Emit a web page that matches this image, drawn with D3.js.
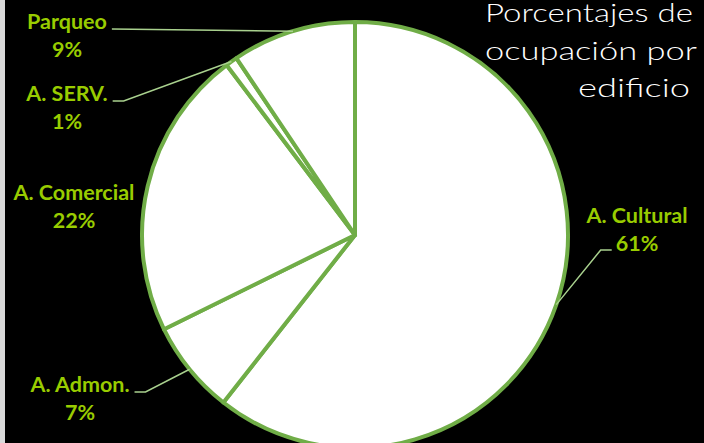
<!DOCTYPE html>
<html lang="es">
<head>
    <meta charset="UTF-8">
    <title>Porcentajes de ocupación por edificio</title>
    <script src="https://d3js.org/d3.v7.min.js"></script>
    <style>
        body { margin: 0; background: #000; }
        .etiqueta {
            font-family: "Lato", "Open Sans", sans-serif;
            font-size: 21.5px;
            font-weight: 700;
            fill: #99cc00;
        }
        .titulo {
            font-family: "Lato", "DejaVu Sans", sans-serif;
            font-size: 25.5px;
            font-weight: 300;
            fill: #ffffff;
        }
    </style>
</head>
<body>
<svg width="704" height="443"></svg>

<script type="application/javascript">

    // datos
    const categorias = ["A. Cultural", "A. Admon.", "A. Comercial", "A. SERV.", "Parqueo"]
    const valores = [60.6, 7.1, 22.0, 0.9, 9.4]
    const tituloLineas = ["Porcentajes de", "ocupación por", "edificio"]

    // posición de cada etiqueta (centro, línea base del nombre)
    const posEtiquetas = [[637, 223], [80, 392], [74, 200], [67, 101], [67, 29]]
    // tipo de linea guia: 0 ninguna, 1 recta, 2 con codo a la derecha, 3 con codo a la izq
    const guias = [3, 2, 0, 2, 1]
    // ancho y borde derecho de cada linea del titulo
    const tituloAnchos = [208, 212, 112]
    const tituloDer = [693, 697, 690]

    const svg = d3.select("svg")
    const cx = 355, cy = 235, radio = 213

    // fondo negro y franja gris de la izq
    svg.append("rect").attr("width", 704).attr("height", 443).attr("fill", "#000")
    svg.append("rect").attr("width", 5).attr("height", 443).attr("fill", "#d9d9d9")

    const total = d3.sum(valores)
    const pie = d3.pie().sort(null).value(function (d) { return d })
    const arcos = pie(valores)
    const arco = d3.arc().innerRadius(0).outerRadius(radio)

    const g = svg.append("g").attr("transform", "translate(" + cx + "," + cy + ")")

    g.selectAll("path")
        .data(arcos)
        .enter()
        .append("path")
        .attr("d", arco)
        .attr("fill", "#ffffff")
        .attr("stroke", "#70ad47")
        .attr("stroke-width", 4)
        .attr("stroke-linejoin", "round")

    // etiquetas
    const etiquetas = svg.selectAll("text.etiqueta")
        .data(arcos)
        .enter()
        .append("text")
        .attr("class", "etiqueta")
        .attr("text-anchor", "middle")

    const nombres = etiquetas.append("tspan")
        .attr("x", function (d, i) { return posEtiquetas[i][0] })
        .attr("y", function (d, i) { return posEtiquetas[i][1] })
        .text(function (d, i) { return categorias[i] })

    const porcentajes = etiquetas.append("tspan")
        .attr("x", function (d, i) { return posEtiquetas[i][0] })
        .attr("y", function (d, i) { return posEtiquetas[i][1] + 28 })
        .text(function (d) { return Math.round(d.data / total * 100) + "%" })

    const anchoNombre = nombres.nodes().map(function (n) { return n.getComputedTextLength() })
    const anchoPct = porcentajes.nodes().map(function (n) { return n.getComputedTextLength() })

    // lineas guia
    svg.selectAll("polyline")
        .data(arcos.filter(function (d, i) { return guias[i] > 0 }))
        .enter()
        .append("polyline")
        .attr("fill", "none")
        .attr("stroke", "#a9d18e")
        .attr("stroke-width", 1.5)
        .attr("points", function (d) {
            const i = d.index
            const a = (d.startAngle + d.endAngle) / 2
            const px = cx + radio * Math.sin(a)
            const py = cy - radio * Math.cos(a)
            const p = posEtiquetas[i]
            let pts
            if (guias[i] === 3) {
                const hx = p[0] - anchoPct[i] / 2 - 4, hy = p[1] + 27
                pts = [[hx, hy], [hx - 11, hy], [px, py]]
            } else if (guias[i] === 1) {
                const hx = p[0] + anchoNombre[i] / 2 + 5
                pts = [[hx, p[1]], [px, py]]
            } else {
                const hx = p[0] + anchoNombre[i] / 2 + 5
                pts = [[hx, p[1]], [hx + 11, p[1]], [px, py]]
            }
            return pts.map(function (q) { return q.join(",") }).join(" ")
        })

    // titulo
    svg.selectAll("text.titulo")
        .data(tituloLineas)
        .enter()
        .append("text")
        .attr("class", "titulo")
        .attr("text-anchor", "end")
        .attr("x", function (d, i) { return tituloDer[i] })
        .attr("y", function (d, i) { return 22 + i * 37.5 })
        .attr("textLength", function (d, i) { return tituloAnchos[i] })
        .attr("lengthAdjust", "spacingAndGlyphs")
        .text(function (d) { return d })

</script>
</body>
</html>
